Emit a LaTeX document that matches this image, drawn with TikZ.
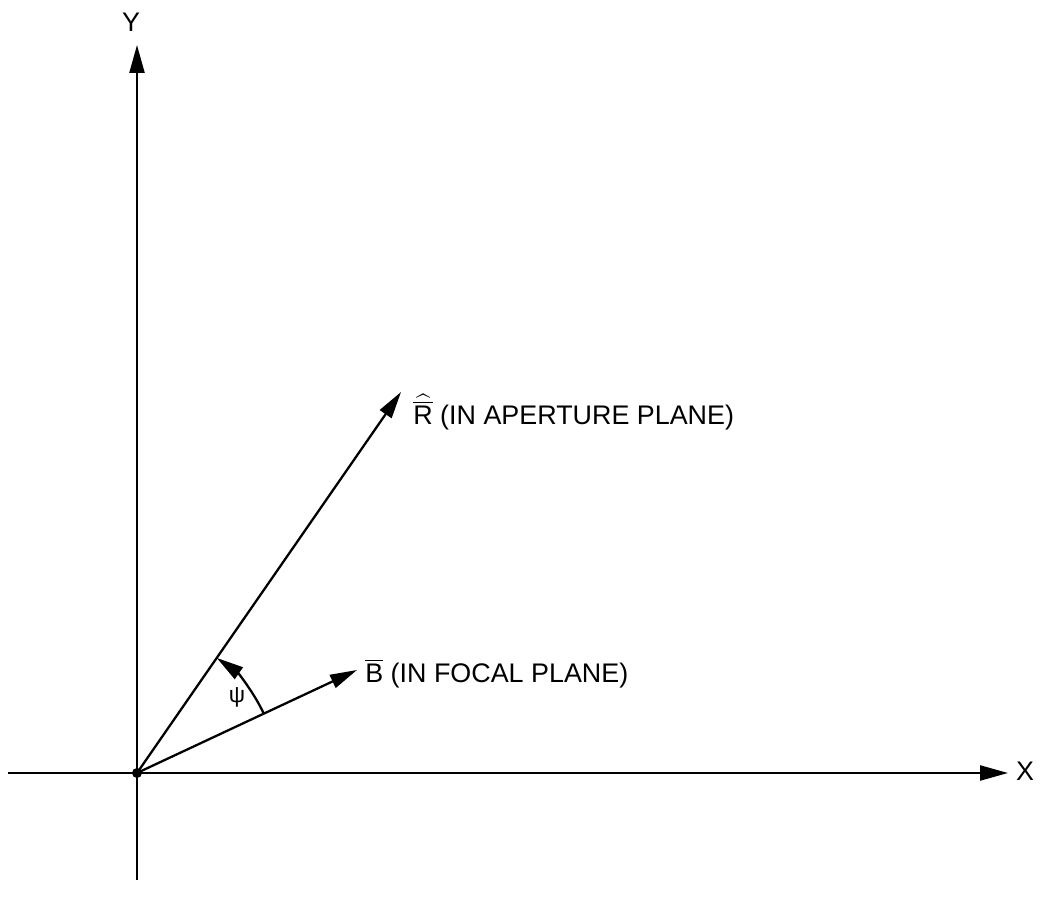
\documentclass[tikz,border=0pt]{standalone}
\usepackage{amsmath}
\usepackage{fontspec}
\setmainfont{Liberation Sans}
\usetikzlibrary{arrows.meta}

\tikzset{
    axis/.style={line width=1.3pt, -{Triangle[length=0.56cm, width=0.3cm]}},
    vec/.style={line width=1.3pt, -{Triangle[length=0.54cm, width=0.28cm]}},
    lbl/.style={inner sep=0pt, font=\fontsize{15.3}{18}\selectfont}
}

\begin{document}
\begin{tikzpicture}[x=0.02cm, y=0.02cm]
    \useasboundingbox (-137,-132) rectangle (906,773);

    % axes
    \coordinate (O) at (0,0);
    \coordinate (xl) at (-129,0);
    \coordinate (xr) at (871,0);
    \coordinate (yb) at (0,-107);
    \coordinate (yt) at (0,728);
    \draw[axis] (xl) -- (xr);
    \draw[axis] (yb) -- (yt);
    \node[lbl] (xlab) at (888,2) {X};
    \node[lbl] (ylab) at (-6,751) {Y};

    % vectors R and B
    \coordinate (Rtip) at (264,381);
    \coordinate (Btip) at (220,103);
    \draw[vec] (O) -- (Rtip);
    \draw[vec] (O) -- (Btip);
    \node[lbl, anchor=base west] (Rlab) at (276,348) {$\widehat{\overline{\text{R}}}$ (IN APERTURE PLANE)};
    \node[lbl, anchor=base west] (Blab) at (228,90) {$\overline{\text{B}}$ (IN FOCAL PLANE)};

    % angle psi
    \draw[vec] (25:140) arc[start angle=25, end angle=55.3, radius=140];
    \node[lbl, font=\fontsize{13}{15}\selectfont] (psi) at (100,76) {ψ};

    \fill (O) circle (5);

\end{tikzpicture}
\end{document}
